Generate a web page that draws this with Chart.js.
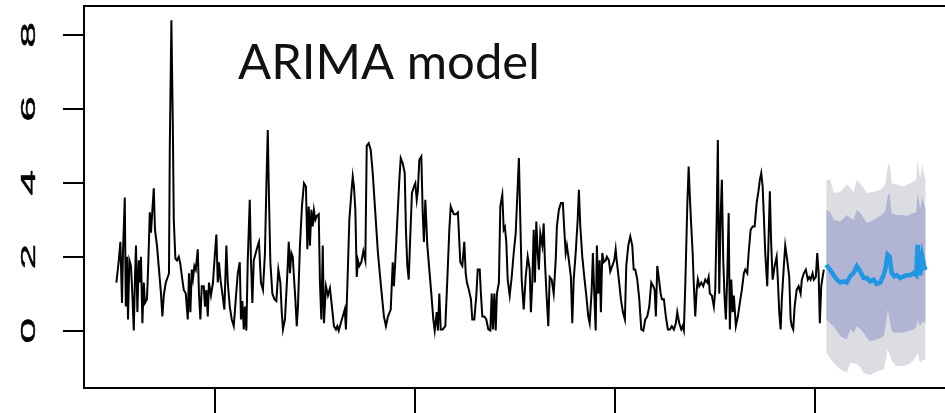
<!DOCTYPE html>
<html>
<head>
<meta charset="utf-8">
<script src="https://cdn.jsdelivr.net/npm/chart.js@4/dist/chart.umd.min.js"></script>
<style>
html,body{margin:0;padding:0;background:#fff;overflow:hidden;width:945px;height:413px;}
canvas{display:block;}
</style>
</head>
<body>
<canvas id="c" width="960" height="413" style="width:960px;height:413px;"></canvas>
<script>
// ---- data ----
const titleText = 'ARIMA model';
const xTicks = [100, 200, 300, 400];
const yTicks = [0, 2, 4, 6, 8];
const yTickLabels = ['0', '2', '4', '6', '8'];

const histT = [
50.5,51.7,52.5,53.3,53.8,54.7,55.2,55.8,56.3,57,57.8,58.5,59.2,59.8,60.3,61,61.7,62.3,62.8,63.5,64.2,64.8,65.8,66.5,67.2,67.8,68.5,69.2,69.8,70.8,71.8,72.8,73.5,74.2,75.2,76.2,76.8,77.2,78,78.7,79.2,80,80.8,81.7,82.5,83.3,84.2,85.2,86.2,86.8,87.5,88.2,88.8,89.5,90.2,91.2,91.8,92.5,93.2,94.2,94.8,95.5,96.2,96.8,97.8,98.8,99.8,100.5,101.2,101.8,102.5,103.5,104.5,105.5,106.2,107.2,108.2,109.2,110.2,111.2,112.2,112.8,113.5,114.2,114.8,115.5,116.2,117.2,117.8,118.5,119.2,120.2,121.2,121.8,122.8,123.8,124.8,125.5,126.2,126.8,127.5,128.5,129.5,130.5,131.5,132.5,133.2,133.8,134.8,
135,136,136.7,137.3,138,138.7,139.3,140,140.7,141.3,142.3,143.3,144.3,145.3,146,146.7,147.3,148,148.7,149.3,150,150.7,151.7,152.3,153,153.7,154.3,155.3,156.3,157.3,158.3,159.3,160.3,161,161.7,162.7,163.7,164.7,165.3,166,167,168,168.7,169.3,170,170.7,171.3,172,173,174,175,175.7,176.7,177.7,178.7,180,181.3,183,184.3,185.3,186.3,187.7,188.7,189.3,190,191,192,192.7,193.7,194.7,195.3,196,196.7,197.3,198.3,199.3,200,200.7,201.3,202,203,203.7,204.3,205,206,207,208,209,209.7,210.7,211.3,212,212.7,213.7,215,216,217,217.7,218.3,219.3,220.3,221.3,222,
222.5,223.5,224.5,225.2,225.8,226.8,227.8,228.5,229.5,230.5,231.2,232.2,232.8,233.5,234.5,235.5,236.5,237.5,238.2,238.8,239.5,240.2,240.8,241.8,242.5,243.5,244.2,244.8,245.5,246.2,247.2,248.2,249.2,250.2,251.2,251.8,252.5,253.2,254.2,255.2,256.2,257.2,257.8,258.5,259.2,259.8,260.5,261.2,261.8,262.5,263.5,264.2,264.8,265.5,266.5,267.2,268.2,269.2,270.2,270.8,271.8,272.8,273.8,274.5,275.2,275.8,276.8,277.8,278.5,279.2,280.2,281.2,281.8,282.5,283.5,284.5,285.5,286.5,287.2,288.2,288.8,289.5,290.2,290.8,291.5,292.2,292.8,293.5,294.2,295.2,295.8,296.8,297.5,298.5,299.5,300.2,300.8,301.8,302.8,303.8,304.8,305.5,306.5,307.5,308.5,309.2,
310,311,312,313,314,315,316,317,318,319,319.7,320.3,321,321.7,322.7,323.3,324.3,325.3,326.3,327.3,328.3,329.3,330.3,331,332,333,333.7,334.3,335,336,336.7,337.3,338,338.7,339.3,340,340.7,341.3,342,343,344,345,346,346.7,347.3,348.3,349.3,350,350.7,351.3,352,352.7,353.3,354,354.7,355.3,356,356.7,357.3,358,358.7,359.3,360.3,361.3,362.3,363.3,364.3,365,366,366.7,367.7,368.7,369.7,370.7,371.7,372.3,373,373.7,374.3,375,376,376.7,377.3,378,378.7,379.7,380.7,381.3,382,382.7,383.3,384.3,385,386,387,387.7,388.3,389,389.7,390.7,391.7,392.7,393.3,394.3,395.3,396.3,397,397.7,398.7,399.3,400.3,401,401.7,402.3,403,403.7,404.3
];
const histV = [
1.3,1.9,2.4,0.75,2.1,3.6,0.65,2.0,0.3,1.9,1.75,0.95,0.0,1.45,2.3,0.5,1.9,1.3,2.0,0.2,1.3,0.75,0.85,1.9,3.2,2.65,3.27,3.85,2.73,2.3,1.65,1.0,0.38,0.95,1.3,1.45,1.55,4.9,8.4,5.65,3.0,1.95,1.9,2.0,1.8,1.45,1.1,1.0,0.3,1.55,0.5,1.65,1.4,1.75,1.65,2.2,1.0,0.3,1.2,1.2,0.65,1.1,0.38,1.3,0.95,1.3,2.1,2.6,1.3,1.85,1.4,1.0,0.57,2.3,1.3,0.65,0.3,0.12,0.85,1.55,1.85,0.3,0.8,0.03,0.65,0.0,1.9,3.54,1.9,0.75,1.9,2.1,2.3,2.4,1.3,1.1,2.1,3.9,5.43,3.63,1.85,1.0,0.85,0.8,1.65,1.3,0.5,0.03,0.3,
0.5,1.55,2.4,1.55,2.1,2.0,1.45,0.85,0.12,0.65,2.3,3.36,3.99,3.9,2.2,3.36,2.3,3.27,2.82,3.25,3.0,3.1,3.15,1.3,0.3,2.3,0.2,1.2,0.95,1.15,0.65,0.12,0.03,0.12,0.0,0.2,0.38,0.57,0.03,1.2,3.0,3.72,4.17,3.9,3.27,1.45,1.9,1.75,1.85,2.15,1.9,5.0,5.07,4.89,4.26,3.18,2.1,1.1,0.38,0.12,0.38,0.57,1.85,1.2,1.9,3.0,4.08,4.67,4.53,4.26,2.73,1.75,1.38,2.3,3.72,3.9,3.99,3.54,3.81,4.62,4.71,3.18,2.4,3.54,2.3,1.65,1.0,0.3,0.0,0.5,0.0,1.0,0.03,0.03,0.12,1.38,2.73,3.36,3.27,3.15,3.15,3.2,2.4,
1.85,1.75,2.4,1.55,1.3,1.1,0.85,0.3,0.3,0.95,1.65,1.65,1.0,0.38,0.38,0.3,0.03,0.0,1.0,0.03,1.0,0.0,1.0,1.3,3.36,3.67,2.73,2.8,2.4,1.38,0.95,1.45,2.1,2.63,3.9,4.67,3.0,1.38,0.57,1.45,2.0,1.65,0.5,1.3,2.73,1.3,2.95,2.1,1.65,2.63,2.3,2.9,1.9,1.1,0.12,1.45,1.38,1.0,1.9,2.82,3.27,3.45,3.45,2.73,2.1,2.3,1.9,1.45,0.2,1.38,2.1,3.0,3.81,2.82,2.0,1.45,0.95,0.38,0.2,1.1,2.1,1.0,0.0,2.3,1.0,1.9,0.5,2.1,1.85,1.9,2.0,1.9,1.6,1.75,1.9,2.2,1.85,1.38,0.85,0.5,0.3,1.75,2.3,2.55,2.3,1.65,
1.65,1.38,0.85,0.03,0.0,0.3,0.38,0.65,1.3,1.2,1.1,0.38,1.75,1.45,1.0,0.85,0.85,0.38,0.03,0.03,0.12,0.03,0.2,0.5,0.2,0.03,0.12,0.0,1.2,3.36,4.44,3.63,2.82,2.1,1.2,0.38,1.1,1.38,1.2,1.3,1.2,1.38,1.3,1.45,1.0,0.95,0.65,1.1,3.0,5.16,1.0,3.1,4.08,1.9,0.85,0.3,1.45,3.18,0.03,1.38,0.5,0.95,0.12,0.38,0.75,1.1,1.55,1.65,1.55,2.1,2.73,2.82,2.82,3.45,3.81,4.08,4.26,3.9,3.1,2.1,1.2,2.55,3.77,2.3,1.38,1.75,2.0,1.38,0.5,0.03,0.85,1.75,2.3,1.9,1.45,0.3,0.12,0.03,0.65,1.1,1.2,1.0,1.38,1.55,1.65,1.38,1.45,1.38,1.55,1.38,1.45,2.1,1.55,0.2,1.2,1.45,1.65
];

const fcT = [405.5,407.5,409.2,410.8,412.5,414.2,415.8,417.5,419.2,420.8,422.5,424.2,425.8,427.5,429.2,430.8,432.5,434.2,435.2,436.2,437.2,438.2,439.5,440.8,442.5,444.2,445.8,447.5,449.2,450.5,451.2,451.8,452.5,453.5,454.5,455.2];
const fcMean = [1.78,1.64,1.5,1.38,1.3,1.33,1.3,1.47,1.56,1.74,1.6,1.42,1.42,1.33,1.38,1.26,1.3,1.5,1.7,2.05,2.0,1.56,1.47,1.5,1.42,1.47,1.5,1.5,1.56,1.5,2.32,1.92,1.5,2.0,1.74,1.64];
const fcHi95 = [4.08,4.08,3.73,3.74,3.76,3.85,3.95,3.85,3.76,4.08,3.99,3.85,3.73,3.74,3.76,3.78,3.81,3.9,3.99,4.44,4.53,3.99,3.97,3.95,3.92,3.9,3.95,3.99,4.04,4.08,4.62,4.4,4.1,4.5,4.2,4.1];
const fcHi80 = [3.27,3.2,3.0,2.97,2.95,3.04,3.13,3.05,3.0,3.27,3.18,3.05,2.91,2.95,3.0,3.05,3.1,3.18,3.27,3.63,3.72,3.18,3.15,3.13,3.13,3.12,3.1,3.14,3.18,3.2,3.72,3.55,3.3,3.6,3.4,3.3];
const fcLo80 = [0.3,0.2,0.12,0.0,-0.15,-0.2,-0.24,0.03,-0.06,0.12,0.05,-0.06,-0.2,-0.29,-0.27,-0.24,-0.2,-0.15,0.1,0.57,0.3,0.0,-0.06,-0.06,-0.06,-0.05,-0.02,0.0,0.03,0.1,0.3,0.2,0.12,0.25,0.21,0.2];
const fcLo95 = [-0.6,-0.75,-0.87,-0.96,-1.05,-1.1,-1.14,-0.87,-0.9,-0.9,-1.0,-1.14,-1.18,-1.2,-1.15,-1.1,-1.08,-1.05,-0.8,-0.5,-0.65,-0.8,-0.9,-0.96,-0.96,-0.96,-0.93,-0.9,-0.8,-0.69,-0.6,-0.75,-0.87,-0.8,-0.78,-0.78];

// ---- chart ----
const toXY = (ts, vs) => ts.map((t, i) => ({x: t, y: vs[i]}));

const decor = {
  id: 'decor',
  afterDraw(chart) {
    const ctx = chart.ctx, ca = chart.chartArea, ys = chart.scales.y;
    ctx.save();
    ctx.strokeStyle = '#000';
    ctx.lineWidth = 2;
    ctx.strokeRect(ca.left, ca.top, ca.right - ca.left, ca.bottom - ca.top);
    ctx.fillStyle = '#000';
    ctx.textAlign = 'center';
    ctx.textBaseline = 'middle';
    ctx.font = '21px "Liberation Sans", Arial, sans-serif';
    ctx.lineWidth = 0.4;
    yTicks.forEach((v, i) => {
      const py = ys.getPixelForValue(v);
      ctx.save();
      ctx.translate(29, py);
      ctx.rotate(-Math.PI / 2);
      ctx.scale(2.2, 1);
      ctx.fillText(yTickLabels[i], 0, 0);
      ctx.strokeText(yTickLabels[i], 0, 0);
      ctx.restore();
    });
    ctx.font = '400 49px Lato, "Open Sans", sans-serif';
    ctx.textAlign = 'left';
    ctx.textBaseline = 'alphabetic';
    ctx.fillStyle = '#111';
    ctx.fillText(titleText, 238, 79);
    ctx.restore();
  }
};

new Chart(document.getElementById('c'), {
  type: 'line',
  data: {
    datasets: [
      {label: 'Observed', data: toXY(histT, histV), borderColor: '#000', borderWidth: 2, pointRadius: 0, fill: false, tension: 0},
      {label: 'Forecast', data: toXY(fcT, fcMean), borderColor: '#2196e3', borderWidth: 4.5, pointRadius: 0, fill: false, tension: 0},
      {label: 'Hi80', data: toXY(fcT, fcHi80), borderWidth: 0, borderColor: 'rgba(0,0,0,0)', backgroundColor: '#b1b4d3', pointRadius: 0, fill: '+1'},
      {label: 'Lo80', data: toXY(fcT, fcLo80), borderWidth: 0, borderColor: 'rgba(0,0,0,0)', pointRadius: 0, fill: false},
      {label: 'Hi95', data: toXY(fcT, fcHi95), borderWidth: 0, borderColor: 'rgba(0,0,0,0)', backgroundColor: '#dcdce3', pointRadius: 0, fill: '+1'},
      {label: 'Lo95', data: toXY(fcT, fcLo95), borderWidth: 0, borderColor: 'rgba(0,0,0,0)', pointRadius: 0, fill: false}
    ]
  },
  options: {
    responsive: false,
    animation: false,
    devicePixelRatio: 1,
    layout: {padding: {top: 6, right: 2, left: 0, bottom: 0}},
    plugins: {legend: {display: false}, tooltip: {enabled: false}, title: {display: false}},
    scales: {
      x: {
        type: 'linear', min: 34.3, max: 471.4,
        afterBuildTicks: s => { s.ticks = xTicks.map(v => ({value: v})); },
        ticks: {display: false},
        grid: {drawOnChartArea: false, drawTicks: true, tickLength: 25, color: '#000', lineWidth: 2},
        border: {display: false},
        afterFit: s => { s.height = 25; }
      },
      y: {
        type: 'linear', min: -1.554, max: 8.784,
        afterBuildTicks: s => { s.ticks = yTicks.map(v => ({value: v})); },
        ticks: {display: false},
        grid: {drawOnChartArea: false, drawTicks: true, tickLength: 21, color: '#000', lineWidth: 2},
        border: {display: false},
        afterFit: s => { s.width = 84; }
      }
    }
  },
  plugins: [decor]
});
</script>
</body>
</html>
